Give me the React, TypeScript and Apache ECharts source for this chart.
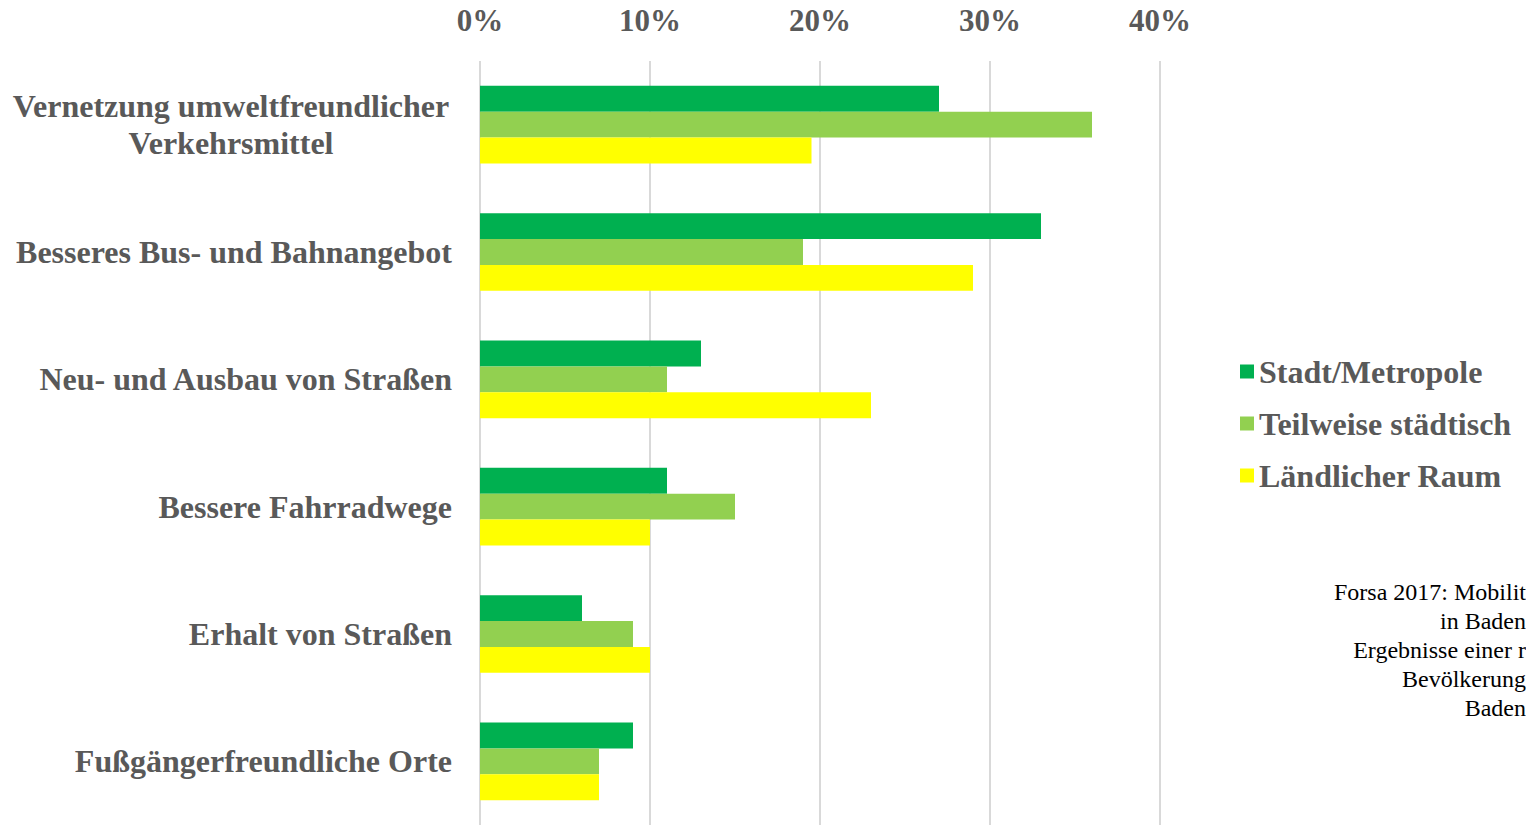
import React, { useEffect, useRef } from "react";
import * as echarts from "echarts";

const categories = [
  "Vernetzung umweltfreundlicher\nVerkehrsmittel",
  "Besseres Bus- und Bahnangebot",
  "Neu- und Ausbau von Straßen",
  "Bessere Fahrradwege",
  "Erhalt von Straßen",
  "Fußgängerfreundliche Orte",
];
const seriesNames = ["Stadt/Metropole", "Teilweise städtisch", "Ländlicher Raum"];
const stadt = [27, 33, 13, 11, 6, 9];
const teilweise = [36, 19, 11, 15, 9, 7];
const laendlich = [19.5, 29, 23, 10, 10, 7];
const colors = ["#00B050", "#92D050", "#FFFF00"];
const xTicks = [0, 10, 20, 30, 40];
const sourceLines = [
  "Forsa 2017: Mobilit",
  "in Baden",
  "Ergebnisse einer r",
  "Bevölkerung",
  "Baden",
];

const FONT = "'Liberation Serif', 'Times New Roman', serif";
const GREY = "#595959";

export default function App() {
  const ref = useRef<HTMLDivElement>(null);
  useEffect(() => {
    document.body.style.margin = "0";
    const chart = echarts.init(ref.current!, null, { renderer: "svg" });
    const values = [stadt, teilweise, laendlich];
    chart.setOption({
      animation: false,
      grid: { left: 480, top: 61, width: 680, height: 768, containLabel: false },
      xAxis: {
        type: "value",
        position: "top",
        min: xTicks[0],
        max: xTicks[xTicks.length - 1],
        interval: 10,
        axisLine: { show: false },
        axisTick: { show: false },
        axisLabel: {
          formatter: "{value}%",
          fontFamily: FONT,
          fontWeight: "bold",
          fontSize: 31,
          color: GREY,
          margin: 25,
        },
        splitLine: { show: true, lineStyle: { color: "#D9D9D9", width: 2 } },
      },
      yAxis: {
        type: "category",
        inverse: true,
        data: categories,
        axisLine: { show: false },
        axisTick: { show: false },
        axisLabel: {
          margin: 28,
          fontFamily: FONT,
          fontWeight: "bold",
          fontSize: 32,
          color: GREY,
          lineHeight: 37,
          formatter: (v: string) => {
            if (v.indexOf("\n") >= 0) {
              return v
                .split("\n")
                .map((l) => "{w|" + l + "}")
                .join("\n");
            }
            return v;
          },
          rich: {
            w: {
              width: 442,
              align: "center",
              fontFamily: FONT,
              fontWeight: "bold",
              fontSize: 32,
              color: GREY,
              lineHeight: 37,
            },
          },
        },
      },
      legend: {
        orient: "vertical",
        left: 1235,
        top: 350,
        icon: "rect",
        itemWidth: 14,
        itemHeight: 14,
        itemGap: 19,
        textStyle: {
          fontFamily: FONT,
          fontWeight: "bold",
          fontSize: 32,
          color: GREY,
          lineHeight: 33,
        },
        data: seriesNames,
      },
      series: seriesNames.map((name, i) => ({
        name,
        type: "bar",
        data: values[i],
        barGap: "0%",
        barCategoryGap: "39%",
        itemStyle: { color: colors[i] },
      })),
      graphic: sourceLines.map((t, i) => ({
        type: "text",
        right: 0,
        top: 580 + i * 29,
        style: {
          text: t,
          fontFamily: FONT,
          fontSize: 24,
          fill: "#000000",
        },
      })),
    });
    return () => chart.dispose();
  }, []);
  return <div ref={ref} style={{ width: 1526, height: 825 }} />;
}
